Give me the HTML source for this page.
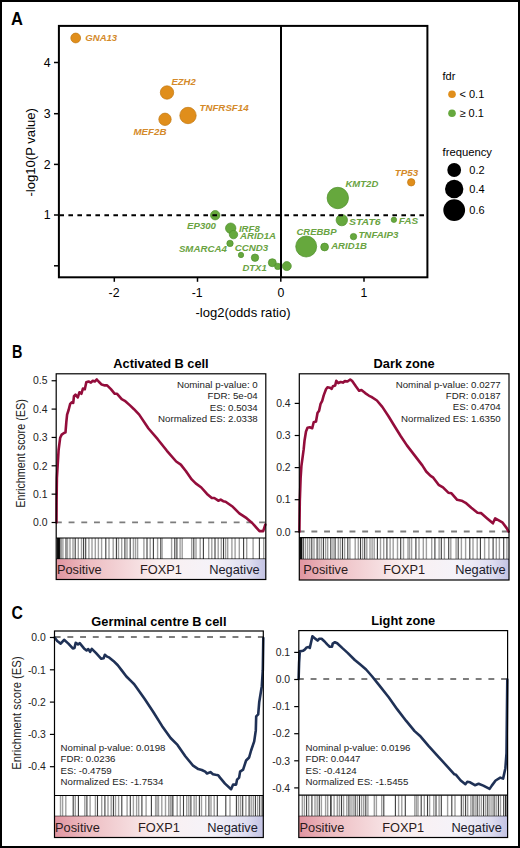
<!DOCTYPE html>
<html><head><meta charset="utf-8"><style>
html,body{margin:0;padding:0;background:#fff;}
svg{display:block;font-family:"Liberation Sans", sans-serif;}
</style></head><body>
<svg width="520" height="848" viewBox="0 0 520 848">
<rect width="520" height="848" fill="#fff"/>
<rect x="1" y="1" width="518" height="846" fill="none" stroke="#000" stroke-width="2"/>
<text x="11.0" y="25.2" font-size="18" text-anchor="start" font-weight="bold" font-style="normal" fill="#000" textLength="11.9" lengthAdjust="spacingAndGlyphs">A</text>
<line x1="54" y1="62.5" x2="58.9" y2="62.5" stroke="#000" stroke-width="1.5"/>
<text x="50.6" y="66.9" font-size="12.3" text-anchor="end" font-weight="normal" font-style="normal" fill="#000">4</text>
<line x1="54" y1="113.7" x2="58.9" y2="113.7" stroke="#000" stroke-width="1.5"/>
<text x="50.6" y="118.10000000000001" font-size="12.3" text-anchor="end" font-weight="normal" font-style="normal" fill="#000">3</text>
<line x1="54" y1="164.4" x2="58.9" y2="164.4" stroke="#000" stroke-width="1.5"/>
<text x="50.6" y="168.8" font-size="12.3" text-anchor="end" font-weight="normal" font-style="normal" fill="#000">2</text>
<line x1="54" y1="215.0" x2="58.9" y2="215.0" stroke="#000" stroke-width="1.5"/>
<text x="50.6" y="219.4" font-size="12.3" text-anchor="end" font-weight="normal" font-style="normal" fill="#000">1</text>
<line x1="54" y1="265.8" x2="58.9" y2="265.8" stroke="#000" stroke-width="1.5"/>
<line x1="114.3" y1="277.3" x2="114.3" y2="281.8" stroke="#000" stroke-width="1.5"/>
<text x="114.0" y="296.9" font-size="12.3" text-anchor="middle" font-weight="normal" font-style="normal" fill="#000">-2</text>
<line x1="197.5" y1="277.3" x2="197.5" y2="281.8" stroke="#000" stroke-width="1.5"/>
<text x="197.2" y="296.9" font-size="12.3" text-anchor="middle" font-weight="normal" font-style="normal" fill="#000">-1</text>
<line x1="280.8" y1="277.3" x2="280.8" y2="281.8" stroke="#000" stroke-width="1.5"/>
<text x="280.8" y="296.9" font-size="12.3" text-anchor="middle" font-weight="normal" font-style="normal" fill="#000">0</text>
<line x1="364.0" y1="277.3" x2="364.0" y2="281.8" stroke="#000" stroke-width="1.5"/>
<text x="364.0" y="296.9" font-size="12.3" text-anchor="middle" font-weight="normal" font-style="normal" fill="#000">1</text>
<text x="243" y="316.5" font-size="13" text-anchor="middle" font-weight="normal" font-style="normal" fill="#000" textLength="95" lengthAdjust="spacingAndGlyphs">-log2(odds ratio)</text>
<text x="0" y="0" font-size="13" text-anchor="middle" transform="translate(35.0,152.3) rotate(-90)" textLength="88.5" lengthAdjust="spacingAndGlyphs">-log10(P value)</text>
<circle cx="75.7" cy="38" r="4.9" fill="#E08E1B" stroke="#C27812" stroke-width="0.7"/>
<circle cx="167" cy="92.5" r="6.7" fill="#E08E1B" stroke="#C27812" stroke-width="0.7"/>
<circle cx="188" cy="115.5" r="8.2" fill="#E08E1B" stroke="#C27812" stroke-width="0.7"/>
<circle cx="165" cy="119.3" r="6.2" fill="#E08E1B" stroke="#C27812" stroke-width="0.7"/>
<circle cx="411.2" cy="182.3" r="3.7" fill="#E08E1B" stroke="#C27812" stroke-width="0.7"/>
<circle cx="337.8" cy="198" r="10.7" fill="#66A83D" stroke="#4F8F2C" stroke-width="0.7"/>
<circle cx="341.8" cy="220.1" r="5.7" fill="#66A83D" stroke="#4F8F2C" stroke-width="0.7"/>
<circle cx="393.9" cy="219.8" r="2.7" fill="#66A83D" stroke="#4F8F2C" stroke-width="0.7"/>
<circle cx="353.5" cy="236.6" r="3.2" fill="#66A83D" stroke="#4F8F2C" stroke-width="0.7"/>
<circle cx="306.2" cy="246.5" r="10.5" fill="#66A83D" stroke="#4F8F2C" stroke-width="0.7"/>
<circle cx="324.6" cy="247" r="3.9000000000000004" fill="#66A83D" stroke="#4F8F2C" stroke-width="0.7"/>
<circle cx="215.2" cy="215.2" r="4.7" fill="#66A83D" stroke="#4F8F2C" stroke-width="0.7"/>
<circle cx="230.7" cy="228.2" r="5.2" fill="#66A83D" stroke="#4F8F2C" stroke-width="0.7"/>
<circle cx="233.5" cy="234.6" r="4.2" fill="#66A83D" stroke="#4F8F2C" stroke-width="0.7"/>
<circle cx="230" cy="243.4" r="3.2" fill="#66A83D" stroke="#4F8F2C" stroke-width="0.7"/>
<circle cx="241" cy="255" r="2.7" fill="#66A83D" stroke="#4F8F2C" stroke-width="0.7"/>
<circle cx="255" cy="257.7" r="3.7" fill="#66A83D" stroke="#4F8F2C" stroke-width="0.7"/>
<circle cx="272.3" cy="262.7" r="4.0" fill="#66A83D" stroke="#4F8F2C" stroke-width="0.7"/>
<circle cx="277.8" cy="266.4" r="3.2" fill="#66A83D" stroke="#4F8F2C" stroke-width="0.7"/>
<circle cx="286.8" cy="266.1" r="4.5" fill="#66A83D" stroke="#4F8F2C" stroke-width="0.7"/>
<line x1="58.9" y1="215.2" x2="427.4" y2="215.2" stroke="#000" stroke-width="2" stroke-dasharray="4.6 4.4" stroke-dashoffset="-0.5"/>
<line x1="281" y1="25.9" x2="281" y2="277.3" stroke="#000" stroke-width="2"/>
<rect x="58.9" y="25.9" width="368.5" height="251.4" fill="none" stroke="#000" stroke-width="2"/>
<text x="85.3" y="41.3" font-size="9.3" text-anchor="start" font-weight="bold" font-style="italic" fill="#D48A2A" textLength="31.9" lengthAdjust="spacingAndGlyphs">GNA13</text>
<text x="171.45" y="85.05" font-size="9.3" text-anchor="start" font-weight="bold" font-style="italic" fill="#D48A2A" textLength="24.35" lengthAdjust="spacingAndGlyphs">EZH2</text>
<text x="199.5" y="110.6" font-size="9.3" text-anchor="start" font-weight="bold" font-style="italic" fill="#D48A2A" textLength="49.1" lengthAdjust="spacingAndGlyphs">TNFRSF14</text>
<text x="133.45" y="135.3" font-size="9.3" text-anchor="start" font-weight="bold" font-style="italic" fill="#D48A2A" textLength="33.1" lengthAdjust="spacingAndGlyphs">MEF2B</text>
<text x="394.7" y="176.2" font-size="9.3" text-anchor="start" font-weight="bold" font-style="italic" fill="#D48A2A" textLength="23.5" lengthAdjust="spacingAndGlyphs">TP53</text>
<text x="345.4" y="186.7" font-size="9.3" text-anchor="start" font-weight="bold" font-style="italic" fill="#6AA342" textLength="32.9" lengthAdjust="spacingAndGlyphs">KMT2D</text>
<text x="348.9" y="224.5" font-size="9.3" text-anchor="start" font-weight="bold" font-style="italic" fill="#6AA342" textLength="31.8" lengthAdjust="spacingAndGlyphs">STAT6</text>
<text x="398.7" y="224.1" font-size="9.3" text-anchor="start" font-weight="bold" font-style="italic" fill="#6AA342" textLength="19.5" lengthAdjust="spacingAndGlyphs">FAS</text>
<text x="358.4" y="237.9" font-size="9.3" text-anchor="start" font-weight="bold" font-style="italic" fill="#6AA342" textLength="40.1" lengthAdjust="spacingAndGlyphs">TNFAIP3</text>
<text x="296.4" y="235.2" font-size="9.3" text-anchor="start" font-weight="bold" font-style="italic" fill="#6AA342" textLength="40.2" lengthAdjust="spacingAndGlyphs">CREBBP</text>
<text x="331.2" y="249.1" font-size="9.3" text-anchor="start" font-weight="bold" font-style="italic" fill="#6AA342" textLength="35.7" lengthAdjust="spacingAndGlyphs">ARID1B</text>
<text x="187.0" y="229.1" font-size="9.3" text-anchor="start" font-weight="bold" font-style="italic" fill="#6AA342" textLength="29.0" lengthAdjust="spacingAndGlyphs">EP300</text>
<text x="238.9" y="231.5" font-size="9.3" text-anchor="start" font-weight="bold" font-style="italic" fill="#6AA342" textLength="20.9" lengthAdjust="spacingAndGlyphs">IRF8</text>
<text x="240.1" y="238.6" font-size="9.3" text-anchor="start" font-weight="bold" font-style="italic" fill="#6AA342" textLength="35.9" lengthAdjust="spacingAndGlyphs">ARID1A</text>
<text x="178.9" y="251.8" font-size="9.3" text-anchor="start" font-weight="bold" font-style="italic" fill="#6AA342" textLength="47.9" lengthAdjust="spacingAndGlyphs">SMARCA4</text>
<text x="234.7" y="251.1" font-size="9.3" text-anchor="start" font-weight="bold" font-style="italic" fill="#6AA342" textLength="33.6" lengthAdjust="spacingAndGlyphs">CCND3</text>
<text x="242.4" y="270.7" font-size="9.3" text-anchor="start" font-weight="bold" font-style="italic" fill="#6AA342" textLength="24.4" lengthAdjust="spacingAndGlyphs">DTX1</text>
<text x="442.5" y="80.2" font-size="11" text-anchor="start" font-weight="normal" font-style="normal" fill="#000">fdr</text>
<circle cx="452" cy="94.3" r="3.8" fill="#E08E1B"/>
<text x="459.5" y="98.2" font-size="11" text-anchor="start" font-weight="normal" font-style="normal" fill="#000">&lt; 0.1</text>
<circle cx="452" cy="113.3" r="3.8" fill="#66A83D"/>
<text x="459.5" y="117.2" font-size="11" text-anchor="start" font-weight="normal" font-style="normal" fill="#000">&#8805; 0.1</text>
<text x="442.5" y="156.4" font-size="11" text-anchor="start" font-weight="normal" font-style="normal" fill="#000" textLength="49.5" lengthAdjust="spacingAndGlyphs">frequency</text>
<circle cx="454.2" cy="170" r="6.9" fill="#000"/>
<text x="469.3" y="173.9" font-size="11" text-anchor="start" font-weight="normal" font-style="normal" fill="#000">0.2</text>
<circle cx="454.2" cy="189" r="9.2" fill="#000"/>
<text x="469.3" y="192.9" font-size="11" text-anchor="start" font-weight="normal" font-style="normal" fill="#000">0.4</text>
<circle cx="454.2" cy="210.1" r="10.9" fill="#000"/>
<text x="469.3" y="214.0" font-size="11" text-anchor="start" font-weight="normal" font-style="normal" fill="#000">0.6</text>
<line x1="56.2" y1="522.4" x2="265.8" y2="522.4" stroke="#7d7d7d" stroke-width="1.8" stroke-dasharray="5.9 6.8" stroke-dashoffset="0.3"/>
<polyline points="56.5,522.5 56.6,500 56.9,478 58.6,450 60.2,437.7 61.7,434.6 64,433 65.5,432.3 66.3,422.3 67.1,414.6 68.6,410 70.2,403.8 71.7,402.3 73.2,403 74,396.2 75.5,394.6 77.8,397.4 79.4,392.3 81.4,393.8 82.9,388.5 84.8,389.2 86.3,382.3 88.6,381.5 90.9,382.6 92.8,380.8 94.8,381.5 96.8,379.5 98.6,381.5 101.7,384.6 104.8,385.4 107.1,385.4 110.9,389.2 114.8,393.8 117.1,393.8 121.7,399.2 124.8,400.8 130,405.4 134,409.2 139.2,414.6 148.5,428.5 157.7,439.2 166.9,450.8 176.2,461.5 180.8,464.6 186,471.3 191.7,479.4 195.7,483.4 201.3,487.5 207,493.9 211.8,498 214.3,498 218.3,500.7 220.7,499.6 223.2,501.2 225.6,501.7 232.8,506.8 239.3,513.3 246.6,518.2 252.2,523 259.5,531.1 263.2,531.1 265.3,524.6" fill="none" stroke="#930D3B" stroke-width="2.6" stroke-linejoin="round" stroke-linecap="round"/>
<rect x="56.2" y="538.0" width="209.60000000000002" height="21.200000000000045" fill="#fff"/>
<rect x="57" y="538.0" width="3.5" height="21.200000000000045" fill="rgb(20,20,20)"/>
<line x1="58.5" y1="538.0" x2="58.5" y2="559.2" stroke="rgb(10,10,10)" stroke-width="1.3"/>
<line x1="61.4" y1="538.0" x2="61.4" y2="559.2" stroke="rgb(160,160,160)" stroke-width="1.4"/>
<line x1="62.9" y1="538.0" x2="62.9" y2="559.2" stroke="rgb(160,160,160)" stroke-width="1.4"/>
<line x1="66.0" y1="538.0" x2="66.0" y2="559.2" stroke="rgb(60,60,60)" stroke-width="1.1"/>
<line x1="67.5" y1="538.0" x2="67.5" y2="559.2" stroke="rgb(160,160,160)" stroke-width="1.4"/>
<line x1="70.0" y1="538.0" x2="70.0" y2="559.2" stroke="rgb(160,160,160)" stroke-width="1.4"/>
<line x1="73.0" y1="538.0" x2="73.0" y2="559.2" stroke="rgb(160,160,160)" stroke-width="1.4"/>
<line x1="75.2" y1="538.0" x2="75.2" y2="559.2" stroke="rgb(60,60,60)" stroke-width="1.1"/>
<line x1="78.3" y1="538.0" x2="78.3" y2="559.2" stroke="rgb(160,160,160)" stroke-width="1.4"/>
<line x1="81.5" y1="538.0" x2="81.5" y2="559.2" stroke="rgb(160,160,160)" stroke-width="1.4"/>
<line x1="83.6" y1="538.0" x2="83.6" y2="559.2" stroke="rgb(60,60,60)" stroke-width="1.1"/>
<line x1="85.7" y1="538.0" x2="85.7" y2="559.2" stroke="rgb(60,60,60)" stroke-width="1.1"/>
<line x1="88.9" y1="538.0" x2="88.9" y2="559.2" stroke="rgb(160,160,160)" stroke-width="1.4"/>
<line x1="92.0" y1="538.0" x2="92.0" y2="559.2" stroke="rgb(160,160,160)" stroke-width="1.4"/>
<line x1="95.3" y1="538.0" x2="95.3" y2="559.2" stroke="rgb(160,160,160)" stroke-width="1.4"/>
<line x1="98.4" y1="538.0" x2="98.4" y2="559.2" stroke="rgb(160,160,160)" stroke-width="1.4"/>
<line x1="101.6" y1="538.0" x2="101.6" y2="559.2" stroke="rgb(160,160,160)" stroke-width="1.4"/>
<line x1="105.8" y1="538.0" x2="105.8" y2="559.2" stroke="rgb(60,60,60)" stroke-width="1.1"/>
<line x1="109.0" y1="538.0" x2="109.0" y2="559.2" stroke="rgb(160,160,160)" stroke-width="1.4"/>
<line x1="113.2" y1="538.0" x2="113.2" y2="559.2" stroke="rgb(160,160,160)" stroke-width="1.4"/>
<line x1="116.4" y1="538.0" x2="116.4" y2="559.2" stroke="rgb(60,60,60)" stroke-width="1.1"/>
<line x1="118.5" y1="538.0" x2="118.5" y2="559.2" stroke="rgb(160,160,160)" stroke-width="1.4"/>
<line x1="121.7" y1="538.0" x2="121.7" y2="559.2" stroke="rgb(160,160,160)" stroke-width="1.4"/>
<line x1="124.9" y1="538.0" x2="124.9" y2="559.2" stroke="rgb(60,60,60)" stroke-width="1.1"/>
<line x1="127.0" y1="538.0" x2="127.0" y2="559.2" stroke="rgb(160,160,160)" stroke-width="1.4"/>
<line x1="130.2" y1="538.0" x2="130.2" y2="559.2" stroke="rgb(60,60,60)" stroke-width="1.1"/>
<line x1="133.4" y1="538.0" x2="133.4" y2="559.2" stroke="rgb(160,160,160)" stroke-width="1.4"/>
<line x1="135.5" y1="538.0" x2="135.5" y2="559.2" stroke="rgb(160,160,160)" stroke-width="1.4"/>
<line x1="137.6" y1="538.0" x2="137.6" y2="559.2" stroke="rgb(160,160,160)" stroke-width="1.4"/>
<line x1="143.9" y1="538.0" x2="143.9" y2="559.2" stroke="rgb(160,160,160)" stroke-width="1.4"/>
<line x1="147.0" y1="538.0" x2="147.0" y2="559.2" stroke="rgb(60,60,60)" stroke-width="1.1"/>
<line x1="150.2" y1="538.0" x2="150.2" y2="559.2" stroke="rgb(160,160,160)" stroke-width="1.4"/>
<line x1="153.4" y1="538.0" x2="153.4" y2="559.2" stroke="rgb(60,60,60)" stroke-width="1.1"/>
<line x1="157.6" y1="538.0" x2="157.6" y2="559.2" stroke="rgb(160,160,160)" stroke-width="1.4"/>
<line x1="160.8" y1="538.0" x2="160.8" y2="559.2" stroke="rgb(60,60,60)" stroke-width="1.1"/>
<line x1="162.1" y1="538.0" x2="162.1" y2="559.2" stroke="rgb(160,160,160)" stroke-width="1.4"/>
<line x1="171.6" y1="538.0" x2="171.6" y2="559.2" stroke="rgb(160,160,160)" stroke-width="1.4"/>
<line x1="174.8" y1="538.0" x2="174.8" y2="559.2" stroke="rgb(60,60,60)" stroke-width="1.1"/>
<line x1="176.9" y1="538.0" x2="176.9" y2="559.2" stroke="rgb(60,60,60)" stroke-width="1.1"/>
<line x1="180.1" y1="538.0" x2="180.1" y2="559.2" stroke="rgb(160,160,160)" stroke-width="1.4"/>
<line x1="182.2" y1="538.0" x2="182.2" y2="559.2" stroke="rgb(160,160,160)" stroke-width="1.4"/>
<line x1="191.7" y1="538.0" x2="191.7" y2="559.2" stroke="rgb(160,160,160)" stroke-width="1.4"/>
<line x1="193.8" y1="538.0" x2="193.8" y2="559.2" stroke="rgb(60,60,60)" stroke-width="1.1"/>
<line x1="196.0" y1="538.0" x2="196.0" y2="559.2" stroke="rgb(160,160,160)" stroke-width="1.4"/>
<line x1="200.2" y1="538.0" x2="200.2" y2="559.2" stroke="rgb(160,160,160)" stroke-width="1.4"/>
<line x1="203.4" y1="538.0" x2="203.4" y2="559.2" stroke="rgb(60,60,60)" stroke-width="1.1"/>
<line x1="208.7" y1="538.0" x2="208.7" y2="559.2" stroke="rgb(160,160,160)" stroke-width="1.4"/>
<line x1="211.8" y1="538.0" x2="211.8" y2="559.2" stroke="rgb(160,160,160)" stroke-width="1.4"/>
<line x1="215.0" y1="538.0" x2="215.0" y2="559.2" stroke="rgb(60,60,60)" stroke-width="1.1"/>
<line x1="218.2" y1="538.0" x2="218.2" y2="559.2" stroke="rgb(160,160,160)" stroke-width="1.4"/>
<line x1="221.3" y1="538.0" x2="221.3" y2="559.2" stroke="rgb(160,160,160)" stroke-width="1.4"/>
<line x1="223.5" y1="538.0" x2="223.5" y2="559.2" stroke="rgb(60,60,60)" stroke-width="1.1"/>
<line x1="225.6" y1="538.0" x2="225.6" y2="559.2" stroke="rgb(160,160,160)" stroke-width="1.4"/>
<line x1="227.7" y1="538.0" x2="227.7" y2="559.2" stroke="rgb(160,160,160)" stroke-width="1.4"/>
<line x1="231.9" y1="538.0" x2="231.9" y2="559.2" stroke="rgb(160,160,160)" stroke-width="1.4"/>
<line x1="235.1" y1="538.0" x2="235.1" y2="559.2" stroke="rgb(160,160,160)" stroke-width="1.4"/>
<line x1="239.3" y1="538.0" x2="239.3" y2="559.2" stroke="rgb(160,160,160)" stroke-width="1.4"/>
<line x1="243.6" y1="538.0" x2="243.6" y2="559.2" stroke="rgb(60,60,60)" stroke-width="1.1"/>
<line x1="246.7" y1="538.0" x2="246.7" y2="559.2" stroke="rgb(160,160,160)" stroke-width="1.4"/>
<line x1="253.1" y1="538.0" x2="253.1" y2="559.2" stroke="rgb(160,160,160)" stroke-width="1.4"/>
<line x1="259.4" y1="538.0" x2="259.4" y2="559.2" stroke="rgb(60,60,60)" stroke-width="1.1"/>
<line x1="263.7" y1="538.0" x2="263.7" y2="559.2" stroke="rgb(160,160,160)" stroke-width="1.4"/>
<line x1="56.2" y1="538.0" x2="265.8" y2="538.0" stroke="#000" stroke-width="1.2"/>
<line x1="56.2" y1="559.2" x2="265.8" y2="559.2" stroke="#000" stroke-width="1.2"/>
<defs><linearGradient id="g56373" x1="0" x2="1" y1="0" y2="0"><stop offset="0" stop-color="#E094A0"/><stop offset="0.15" stop-color="#EDBCC1"/><stop offset="0.5" stop-color="#FAEFF0"/><stop offset="0.75" stop-color="#F5F3F9"/><stop offset="0.92" stop-color="#DEDDF0"/><stop offset="1" stop-color="#C2C2E3"/></linearGradient></defs>
<rect x="56.2" y="559.2" width="209.60000000000002" height="20.299999999999955" fill="url(#g56373)"/>
<rect x="56.2" y="373.8" width="209.60000000000002" height="205.7" fill="none" stroke="#000" stroke-width="1.2"/>
<line x1="51.6" y1="522.50" x2="56.2" y2="522.50" stroke="#000" stroke-width="1.2"/>
<text x="47.5" y="526.2" font-size="10.4" text-anchor="end" font-weight="normal" font-style="normal" fill="#222">0.0</text>
<line x1="51.6" y1="494.15" x2="56.2" y2="494.15" stroke="#000" stroke-width="1.2"/>
<text x="47.5" y="497.85" font-size="10.4" text-anchor="end" font-weight="normal" font-style="normal" fill="#222">0.1</text>
<line x1="51.6" y1="465.80" x2="56.2" y2="465.80" stroke="#000" stroke-width="1.2"/>
<text x="47.5" y="469.5" font-size="10.4" text-anchor="end" font-weight="normal" font-style="normal" fill="#222">0.2</text>
<line x1="51.6" y1="437.45" x2="56.2" y2="437.45" stroke="#000" stroke-width="1.2"/>
<text x="47.5" y="441.15" font-size="10.4" text-anchor="end" font-weight="normal" font-style="normal" fill="#222">0.3</text>
<line x1="51.6" y1="409.10" x2="56.2" y2="409.10" stroke="#000" stroke-width="1.2"/>
<text x="47.5" y="412.8" font-size="10.4" text-anchor="end" font-weight="normal" font-style="normal" fill="#222">0.4</text>
<line x1="51.6" y1="380.75" x2="56.2" y2="380.75" stroke="#000" stroke-width="1.2"/>
<text x="47.5" y="384.45" font-size="10.4" text-anchor="end" font-weight="normal" font-style="normal" fill="#222">0.5</text>
<text x="161.0" y="368.2" font-size="12.8" text-anchor="middle" font-weight="bold" font-style="normal" fill="#000">Activated B cell</text>
<text x="257.7" y="388.0" font-size="9.7" text-anchor="end" font-weight="normal" font-style="normal" fill="#222">Nominal p-value: 0</text>
<text x="257.7" y="399.4" font-size="9.7" text-anchor="end" font-weight="normal" font-style="normal" fill="#222">FDR: 5e-04</text>
<text x="257.7" y="410.8" font-size="9.7" text-anchor="end" font-weight="normal" font-style="normal" fill="#222">ES: 0.5034</text>
<text x="257.7" y="422.2" font-size="9.7" text-anchor="end" font-weight="normal" font-style="normal" fill="#222">Normalized ES: 2.0338</text>
<text x="56.900000000000006" y="574.0500000000001" font-size="12.8" text-anchor="start" font-weight="normal" font-style="normal" fill="#2a1a1a">Positive</text>
<text x="161.0" y="574.0500000000001" font-size="12.8" text-anchor="middle" font-weight="normal" font-style="normal" fill="#2a1a1a">FOXP1</text>
<text x="259.70000000000005" y="574.0500000000001" font-size="12.8" text-anchor="end" font-weight="normal" font-style="normal" fill="#1a1a2a">Negative</text>
<line x1="299.3" y1="531.5" x2="509.0" y2="531.5" stroke="#7d7d7d" stroke-width="1.8" stroke-dasharray="5.9 6.8" stroke-dashoffset="0.6"/>
<polyline points="299.4,531.8 299.8,501.5 300.6,478.5 301.4,466.2 303.7,449.2 304.5,440.8 306,431.5 307.5,427.7 309.8,427.2 312.2,428.2 313.7,422.3 316,421.5 317.5,413.1 319.1,410.8 320.6,403.8 322.2,400.8 323.7,395.4 326,389.2 327.5,387.2 329.8,387.7 331.7,388.8 332.9,386.2 335.2,385.4 336.3,380.8 338.3,383.1 340.6,382 342.9,382.6 344.9,381.1 347.5,381.5 350.2,379.5 352.2,381.1 356,386.6 359.1,390.8 361.4,390 365.2,393.1 369.1,395.8 371.4,396.9 376.9,400.5 382.3,406.9 388.5,416.2 394.6,426.2 400.8,436.2 406.9,445.4 414.6,455.4 422.3,465.4 426.2,471.5 430.6,475.9 433.3,477.7 438.6,484.8 443,487.4 448.3,492.7 451.5,493.3 457.2,499.8 461.6,500.7 465.6,502.8 471.3,507.8 477.5,512.7 481,513.1 487.2,518.4 492.9,523.3 495.2,518.4 502.3,522.3 506.7,528.1 508.6,531.7" fill="none" stroke="#930D3B" stroke-width="2.6" stroke-linejoin="round" stroke-linecap="round"/>
<rect x="299.3" y="537.6" width="209.7" height="21.799999999999955" fill="#fff"/>
<rect x="299.5" y="537.6" width="2.8000000000000114" height="21.799999999999955" fill="rgb(20,20,20)"/>
<line x1="301.2" y1="537.6" x2="301.2" y2="559.4" stroke="rgb(10,10,10)" stroke-width="1.3"/>
<line x1="303.3" y1="537.6" x2="303.3" y2="559.4" stroke="rgb(60,60,60)" stroke-width="1.1"/>
<line x1="305.4" y1="537.6" x2="305.4" y2="559.4" stroke="rgb(160,160,160)" stroke-width="1.4"/>
<line x1="307.6" y1="537.6" x2="307.6" y2="559.4" stroke="rgb(160,160,160)" stroke-width="1.4"/>
<line x1="309.7" y1="537.6" x2="309.7" y2="559.4" stroke="rgb(160,160,160)" stroke-width="1.4"/>
<line x1="311.8" y1="537.6" x2="311.8" y2="559.4" stroke="rgb(60,60,60)" stroke-width="1.1"/>
<line x1="314.0" y1="537.6" x2="314.0" y2="559.4" stroke="rgb(160,160,160)" stroke-width="1.4"/>
<line x1="317.1" y1="537.6" x2="317.1" y2="559.4" stroke="rgb(60,60,60)" stroke-width="1.1"/>
<line x1="319.2" y1="537.6" x2="319.2" y2="559.4" stroke="rgb(160,160,160)" stroke-width="1.4"/>
<line x1="321.3" y1="537.6" x2="321.3" y2="559.4" stroke="rgb(160,160,160)" stroke-width="1.4"/>
<line x1="323.4" y1="537.6" x2="323.4" y2="559.4" stroke="rgb(60,60,60)" stroke-width="1.1"/>
<line x1="325.6" y1="537.6" x2="325.6" y2="559.4" stroke="rgb(160,160,160)" stroke-width="1.4"/>
<line x1="327.7" y1="537.6" x2="327.7" y2="559.4" stroke="rgb(160,160,160)" stroke-width="1.4"/>
<line x1="330.8" y1="537.6" x2="330.8" y2="559.4" stroke="rgb(60,60,60)" stroke-width="1.1"/>
<line x1="333.0" y1="537.6" x2="333.0" y2="559.4" stroke="rgb(160,160,160)" stroke-width="1.4"/>
<line x1="335.1" y1="537.6" x2="335.1" y2="559.4" stroke="rgb(60,60,60)" stroke-width="1.1"/>
<line x1="338.3" y1="537.6" x2="338.3" y2="559.4" stroke="rgb(160,160,160)" stroke-width="1.4"/>
<line x1="340.4" y1="537.6" x2="340.4" y2="559.4" stroke="rgb(160,160,160)" stroke-width="1.4"/>
<line x1="342.5" y1="537.6" x2="342.5" y2="559.4" stroke="rgb(60,60,60)" stroke-width="1.1"/>
<line x1="344.6" y1="537.6" x2="344.6" y2="559.4" stroke="rgb(160,160,160)" stroke-width="1.4"/>
<line x1="347.8" y1="537.6" x2="347.8" y2="559.4" stroke="rgb(60,60,60)" stroke-width="1.1"/>
<line x1="349.9" y1="537.6" x2="349.9" y2="559.4" stroke="rgb(160,160,160)" stroke-width="1.4"/>
<line x1="355.2" y1="537.6" x2="355.2" y2="559.4" stroke="rgb(160,160,160)" stroke-width="1.4"/>
<line x1="358.3" y1="537.6" x2="358.3" y2="559.4" stroke="rgb(160,160,160)" stroke-width="1.4"/>
<line x1="360.5" y1="537.6" x2="360.5" y2="559.4" stroke="rgb(60,60,60)" stroke-width="1.1"/>
<line x1="362.6" y1="537.6" x2="362.6" y2="559.4" stroke="rgb(160,160,160)" stroke-width="1.4"/>
<line x1="364.7" y1="537.6" x2="364.7" y2="559.4" stroke="rgb(60,60,60)" stroke-width="1.1"/>
<line x1="366.8" y1="537.6" x2="366.8" y2="559.4" stroke="rgb(160,160,160)" stroke-width="1.4"/>
<line x1="370.0" y1="537.6" x2="370.0" y2="559.4" stroke="rgb(160,160,160)" stroke-width="1.4"/>
<line x1="372.1" y1="537.6" x2="372.1" y2="559.4" stroke="rgb(160,160,160)" stroke-width="1.4"/>
<line x1="374.2" y1="537.6" x2="374.2" y2="559.4" stroke="rgb(160,160,160)" stroke-width="1.4"/>
<line x1="377.4" y1="537.6" x2="377.4" y2="559.4" stroke="rgb(60,60,60)" stroke-width="1.1"/>
<line x1="380.5" y1="537.6" x2="380.5" y2="559.4" stroke="rgb(160,160,160)" stroke-width="1.4"/>
<line x1="383.7" y1="537.6" x2="383.7" y2="559.4" stroke="rgb(160,160,160)" stroke-width="1.4"/>
<line x1="386.9" y1="537.6" x2="386.9" y2="559.4" stroke="rgb(60,60,60)" stroke-width="1.1"/>
<line x1="390.1" y1="537.6" x2="390.1" y2="559.4" stroke="rgb(160,160,160)" stroke-width="1.4"/>
<line x1="393.2" y1="537.6" x2="393.2" y2="559.4" stroke="rgb(160,160,160)" stroke-width="1.4"/>
<line x1="397.5" y1="537.6" x2="397.5" y2="559.4" stroke="rgb(160,160,160)" stroke-width="1.4"/>
<line x1="400.7" y1="537.6" x2="400.7" y2="559.4" stroke="rgb(60,60,60)" stroke-width="1.1"/>
<line x1="403.5" y1="537.6" x2="403.5" y2="559.4" stroke="rgb(160,160,160)" stroke-width="1.4"/>
<line x1="408.0" y1="537.6" x2="408.0" y2="559.4" stroke="rgb(160,160,160)" stroke-width="1.4"/>
<line x1="409.5" y1="537.6" x2="409.5" y2="559.4" stroke="rgb(160,160,160)" stroke-width="1.4"/>
<line x1="411.6" y1="537.6" x2="411.6" y2="559.4" stroke="rgb(160,160,160)" stroke-width="1.4"/>
<line x1="415.9" y1="537.6" x2="415.9" y2="559.4" stroke="rgb(60,60,60)" stroke-width="1.1"/>
<line x1="419.0" y1="537.6" x2="419.0" y2="559.4" stroke="rgb(160,160,160)" stroke-width="1.4"/>
<line x1="423.3" y1="537.6" x2="423.3" y2="559.4" stroke="rgb(160,160,160)" stroke-width="1.4"/>
<line x1="426.4" y1="537.6" x2="426.4" y2="559.4" stroke="rgb(160,160,160)" stroke-width="1.4"/>
<line x1="431.7" y1="537.6" x2="431.7" y2="559.4" stroke="rgb(160,160,160)" stroke-width="1.4"/>
<line x1="434.9" y1="537.6" x2="434.9" y2="559.4" stroke="rgb(60,60,60)" stroke-width="1.1"/>
<line x1="439.1" y1="537.6" x2="439.1" y2="559.4" stroke="rgb(160,160,160)" stroke-width="1.4"/>
<line x1="441.3" y1="537.6" x2="441.3" y2="559.4" stroke="rgb(60,60,60)" stroke-width="1.1"/>
<line x1="444.4" y1="537.6" x2="444.4" y2="559.4" stroke="rgb(160,160,160)" stroke-width="1.4"/>
<line x1="448.7" y1="537.6" x2="448.7" y2="559.4" stroke="rgb(60,60,60)" stroke-width="1.1"/>
<line x1="450.8" y1="537.6" x2="450.8" y2="559.4" stroke="rgb(160,160,160)" stroke-width="1.4"/>
<line x1="456.1" y1="537.6" x2="456.1" y2="559.4" stroke="rgb(160,160,160)" stroke-width="1.4"/>
<line x1="458.2" y1="537.6" x2="458.2" y2="559.4" stroke="rgb(60,60,60)" stroke-width="1.1"/>
<line x1="461.4" y1="537.6" x2="461.4" y2="559.4" stroke="rgb(160,160,160)" stroke-width="1.4"/>
<line x1="465.6" y1="537.6" x2="465.6" y2="559.4" stroke="rgb(160,160,160)" stroke-width="1.4"/>
<line x1="469.8" y1="537.6" x2="469.8" y2="559.4" stroke="rgb(60,60,60)" stroke-width="1.1"/>
<line x1="473.0" y1="537.6" x2="473.0" y2="559.4" stroke="rgb(160,160,160)" stroke-width="1.4"/>
<line x1="477.2" y1="537.6" x2="477.2" y2="559.4" stroke="rgb(160,160,160)" stroke-width="1.4"/>
<line x1="480.4" y1="537.6" x2="480.4" y2="559.4" stroke="rgb(60,60,60)" stroke-width="1.1"/>
<line x1="484.6" y1="537.6" x2="484.6" y2="559.4" stroke="rgb(160,160,160)" stroke-width="1.4"/>
<line x1="488.9" y1="537.6" x2="488.9" y2="559.4" stroke="rgb(160,160,160)" stroke-width="1.4"/>
<line x1="493.1" y1="537.6" x2="493.1" y2="559.4" stroke="rgb(60,60,60)" stroke-width="1.1"/>
<line x1="496.3" y1="537.6" x2="496.3" y2="559.4" stroke="rgb(160,160,160)" stroke-width="1.4"/>
<line x1="499.4" y1="537.6" x2="499.4" y2="559.4" stroke="rgb(160,160,160)" stroke-width="1.4"/>
<line x1="503.7" y1="537.6" x2="503.7" y2="559.4" stroke="rgb(60,60,60)" stroke-width="1.1"/>
<line x1="506.9" y1="537.6" x2="506.9" y2="559.4" stroke="rgb(160,160,160)" stroke-width="1.4"/>
<line x1="299.3" y1="537.6" x2="509.0" y2="537.6" stroke="#000" stroke-width="1.2"/>
<line x1="299.3" y1="559.4" x2="509.0" y2="559.4" stroke="#000" stroke-width="1.2"/>
<defs><linearGradient id="g299373" x1="0" x2="1" y1="0" y2="0"><stop offset="0" stop-color="#E094A0"/><stop offset="0.15" stop-color="#EDBCC1"/><stop offset="0.5" stop-color="#FAEFF0"/><stop offset="0.75" stop-color="#F5F3F9"/><stop offset="0.92" stop-color="#DEDDF0"/><stop offset="1" stop-color="#C2C2E3"/></linearGradient></defs>
<rect x="299.3" y="559.4" width="209.7" height="20.600000000000023" fill="url(#g299373)"/>
<rect x="299.3" y="373.8" width="209.7" height="206.2" fill="none" stroke="#000" stroke-width="1.2"/>
<line x1="294.7" y1="531.80" x2="299.3" y2="531.80" stroke="#000" stroke-width="1.2"/>
<text x="290.6" y="535.5" font-size="10.4" text-anchor="end" font-weight="normal" font-style="normal" fill="#222">0.0</text>
<line x1="294.7" y1="499.70" x2="299.3" y2="499.70" stroke="#000" stroke-width="1.2"/>
<text x="290.6" y="503.4" font-size="10.4" text-anchor="end" font-weight="normal" font-style="normal" fill="#222">0.1</text>
<line x1="294.7" y1="467.60" x2="299.3" y2="467.60" stroke="#000" stroke-width="1.2"/>
<text x="290.6" y="471.3" font-size="10.4" text-anchor="end" font-weight="normal" font-style="normal" fill="#222">0.2</text>
<line x1="294.7" y1="435.50" x2="299.3" y2="435.50" stroke="#000" stroke-width="1.2"/>
<text x="290.6" y="439.2" font-size="10.4" text-anchor="end" font-weight="normal" font-style="normal" fill="#222">0.3</text>
<line x1="294.7" y1="403.40" x2="299.3" y2="403.40" stroke="#000" stroke-width="1.2"/>
<text x="290.6" y="407.1" font-size="10.4" text-anchor="end" font-weight="normal" font-style="normal" fill="#222">0.4</text>
<text x="404.15" y="368.2" font-size="12.8" text-anchor="middle" font-weight="bold" font-style="normal" fill="#000">Dark zone</text>
<text x="500.7" y="387.6" font-size="9.7" text-anchor="end" font-weight="normal" font-style="normal" fill="#222">Nominal p-value: 0.0277</text>
<text x="500.7" y="399.0" font-size="9.7" text-anchor="end" font-weight="normal" font-style="normal" fill="#222">FDR: 0.0187</text>
<text x="500.7" y="410.4" font-size="9.7" text-anchor="end" font-weight="normal" font-style="normal" fill="#222">ES: 0.4704</text>
<text x="500.7" y="421.8" font-size="9.7" text-anchor="end" font-weight="normal" font-style="normal" fill="#222">Normalized ES: 1.6350</text>
<text x="303.3" y="574.4000000000001" font-size="12.8" text-anchor="start" font-weight="normal" font-style="normal" fill="#2a1a1a">Positive</text>
<text x="404.15" y="574.4000000000001" font-size="12.8" text-anchor="middle" font-weight="normal" font-style="normal" fill="#2a1a1a">FOXP1</text>
<text x="505.7" y="574.4000000000001" font-size="12.8" text-anchor="end" font-weight="normal" font-style="normal" fill="#1a1a2a">Negative</text>
<text x="11.9" y="358.4" font-size="18" text-anchor="start" font-weight="bold" font-style="normal" fill="#000" textLength="10.4" lengthAdjust="spacingAndGlyphs">B</text>
<text x="0" y="0" font-size="12" text-anchor="middle" fill="#222" transform="translate(24.5,453.5) rotate(-90)" textLength="108.5" lengthAdjust="spacingAndGlyphs">Enrichment score (ES)</text>
<line x1="54.5" y1="637.0" x2="263.3" y2="637.0" stroke="#7d7d7d" stroke-width="1.8" stroke-dasharray="5.9 6.8" stroke-dashoffset="-0.2"/>
<polyline points="54.6,637.5 57.2,641 60.7,643.6 64.1,639.8 68.4,643.6 72.8,648.4 74.5,647.9 75.7,642.7 78,644.4 79.7,643.2 84,648.4 86.6,650.5 88.3,649.1 90.1,651.9 91.8,648.8 96.1,653.1 101.3,658.8 103.6,658.3 104.8,654.8 107,656.6 109.1,657.4 113.4,660.9 117.8,665.2 122.1,670.9 126.4,676.5 131.6,681.7 134.2,684.2 138.5,690.3 144.7,699 153.3,712 162,725.9 170.6,738 177.5,744.9 185.3,756.2 193.1,765.7 198.3,769.1 201.8,770 205.2,771.7 207,773.5 210.4,772.1 213,774.3 215.6,774.8 218.2,775.2 220,777.6 225,783.6 231.1,789.2 233.1,784.6 236.1,784.6 237.1,779.6 239.1,777.6 240.1,771.6 243.1,769.6 246.1,760.5 249.1,757.5 251.1,750.5 254.2,741.4 255.8,730.4 256.2,716.3 258.2,714.3 259.2,702.3 261.8,686.2 262.8,670.2 263.3,638" fill="none" stroke="#1F3156" stroke-width="2.6" stroke-linejoin="round" stroke-linecap="round"/>
<rect x="54.5" y="795.5" width="208.8" height="20.799999999999955" fill="#fff"/>
<line x1="60.5" y1="795.5" x2="60.5" y2="816.3" stroke="rgb(160,160,160)" stroke-width="1.4"/>
<line x1="62.6" y1="795.5" x2="62.6" y2="816.3" stroke="rgb(160,160,160)" stroke-width="1.4"/>
<line x1="65.8" y1="795.5" x2="65.8" y2="816.3" stroke="rgb(160,160,160)" stroke-width="1.4"/>
<line x1="73.2" y1="795.5" x2="73.2" y2="816.3" stroke="rgb(60,60,60)" stroke-width="1.1"/>
<line x1="75.3" y1="795.5" x2="75.3" y2="816.3" stroke="rgb(160,160,160)" stroke-width="1.4"/>
<line x1="78.4" y1="795.5" x2="78.4" y2="816.3" stroke="rgb(60,60,60)" stroke-width="1.1"/>
<line x1="84.8" y1="795.5" x2="84.8" y2="816.3" stroke="rgb(160,160,160)" stroke-width="1.4"/>
<line x1="86.9" y1="795.5" x2="86.9" y2="816.3" stroke="rgb(60,60,60)" stroke-width="1.1"/>
<line x1="90.1" y1="795.5" x2="90.1" y2="816.3" stroke="rgb(160,160,160)" stroke-width="1.4"/>
<line x1="95.4" y1="795.5" x2="95.4" y2="816.3" stroke="rgb(160,160,160)" stroke-width="1.4"/>
<line x1="97.5" y1="795.5" x2="97.5" y2="816.3" stroke="rgb(60,60,60)" stroke-width="1.1"/>
<line x1="101.7" y1="795.5" x2="101.7" y2="816.3" stroke="rgb(160,160,160)" stroke-width="1.4"/>
<line x1="104.9" y1="795.5" x2="104.9" y2="816.3" stroke="rgb(60,60,60)" stroke-width="1.1"/>
<line x1="108.0" y1="795.5" x2="108.0" y2="816.3" stroke="rgb(160,160,160)" stroke-width="1.4"/>
<line x1="111.2" y1="795.5" x2="111.2" y2="816.3" stroke="rgb(160,160,160)" stroke-width="1.4"/>
<line x1="113.4" y1="795.5" x2="113.4" y2="816.3" stroke="rgb(60,60,60)" stroke-width="1.1"/>
<line x1="115.5" y1="795.5" x2="115.5" y2="816.3" stroke="rgb(160,160,160)" stroke-width="1.4"/>
<line x1="118.6" y1="795.5" x2="118.6" y2="816.3" stroke="rgb(160,160,160)" stroke-width="1.4"/>
<line x1="121.8" y1="795.5" x2="121.8" y2="816.3" stroke="rgb(60,60,60)" stroke-width="1.1"/>
<line x1="127.1" y1="795.5" x2="127.1" y2="816.3" stroke="rgb(160,160,160)" stroke-width="1.4"/>
<line x1="130.3" y1="795.5" x2="130.3" y2="816.3" stroke="rgb(60,60,60)" stroke-width="1.1"/>
<line x1="133.4" y1="795.5" x2="133.4" y2="816.3" stroke="rgb(160,160,160)" stroke-width="1.4"/>
<line x1="136.6" y1="795.5" x2="136.6" y2="816.3" stroke="rgb(160,160,160)" stroke-width="1.4"/>
<line x1="138.7" y1="795.5" x2="138.7" y2="816.3" stroke="rgb(160,160,160)" stroke-width="1.4"/>
<line x1="141.9" y1="795.5" x2="141.9" y2="816.3" stroke="rgb(60,60,60)" stroke-width="1.1"/>
<line x1="146.1" y1="795.5" x2="146.1" y2="816.3" stroke="rgb(160,160,160)" stroke-width="1.4"/>
<line x1="151.4" y1="795.5" x2="151.4" y2="816.3" stroke="rgb(60,60,60)" stroke-width="1.1"/>
<line x1="155.6" y1="795.5" x2="155.6" y2="816.3" stroke="rgb(160,160,160)" stroke-width="1.4"/>
<line x1="157.0" y1="795.5" x2="157.0" y2="816.3" stroke="rgb(160,160,160)" stroke-width="1.4"/>
<line x1="158.5" y1="795.5" x2="158.5" y2="816.3" stroke="rgb(160,160,160)" stroke-width="1.4"/>
<line x1="161.8" y1="795.5" x2="161.8" y2="816.3" stroke="rgb(160,160,160)" stroke-width="1.4"/>
<line x1="165.5" y1="795.5" x2="165.5" y2="816.3" stroke="rgb(160,160,160)" stroke-width="1.4"/>
<line x1="168.7" y1="795.5" x2="168.7" y2="816.3" stroke="rgb(160,160,160)" stroke-width="1.4"/>
<line x1="170.3" y1="795.5" x2="170.3" y2="816.3" stroke="rgb(160,160,160)" stroke-width="1.4"/>
<line x1="171.9" y1="795.5" x2="171.9" y2="816.3" stroke="rgb(160,160,160)" stroke-width="1.4"/>
<line x1="172.9" y1="795.5" x2="172.9" y2="816.3" stroke="rgb(60,60,60)" stroke-width="1.1"/>
<line x1="177.2" y1="795.5" x2="177.2" y2="816.3" stroke="rgb(160,160,160)" stroke-width="1.4"/>
<line x1="180.3" y1="795.5" x2="180.3" y2="816.3" stroke="rgb(160,160,160)" stroke-width="1.4"/>
<line x1="183.5" y1="795.5" x2="183.5" y2="816.3" stroke="rgb(60,60,60)" stroke-width="1.1"/>
<line x1="186.7" y1="795.5" x2="186.7" y2="816.3" stroke="rgb(160,160,160)" stroke-width="1.4"/>
<line x1="188.8" y1="795.5" x2="188.8" y2="816.3" stroke="rgb(160,160,160)" stroke-width="1.4"/>
<line x1="190.9" y1="795.5" x2="190.9" y2="816.3" stroke="rgb(60,60,60)" stroke-width="1.1"/>
<line x1="194.1" y1="795.5" x2="194.1" y2="816.3" stroke="rgb(160,160,160)" stroke-width="1.4"/>
<line x1="196.2" y1="795.5" x2="196.2" y2="816.3" stroke="rgb(160,160,160)" stroke-width="1.4"/>
<line x1="199.4" y1="795.5" x2="199.4" y2="816.3" stroke="rgb(60,60,60)" stroke-width="1.1"/>
<line x1="201.5" y1="795.5" x2="201.5" y2="816.3" stroke="rgb(160,160,160)" stroke-width="1.4"/>
<line x1="205.7" y1="795.5" x2="205.7" y2="816.3" stroke="rgb(160,160,160)" stroke-width="1.4"/>
<line x1="208.9" y1="795.5" x2="208.9" y2="816.3" stroke="rgb(60,60,60)" stroke-width="1.1"/>
<line x1="211.0" y1="795.5" x2="211.0" y2="816.3" stroke="rgb(160,160,160)" stroke-width="1.4"/>
<line x1="214.2" y1="795.5" x2="214.2" y2="816.3" stroke="rgb(160,160,160)" stroke-width="1.4"/>
<line x1="217.3" y1="795.5" x2="217.3" y2="816.3" stroke="rgb(60,60,60)" stroke-width="1.1"/>
<line x1="225.8" y1="795.5" x2="225.8" y2="816.3" stroke="rgb(60,60,60)" stroke-width="1.1"/>
<line x1="230.0" y1="795.5" x2="230.0" y2="816.3" stroke="rgb(160,160,160)" stroke-width="1.4"/>
<line x1="236.4" y1="795.5" x2="236.4" y2="816.3" stroke="rgb(60,60,60)" stroke-width="1.1"/>
<line x1="238.5" y1="795.5" x2="238.5" y2="816.3" stroke="rgb(160,160,160)" stroke-width="1.4"/>
<line x1="240.6" y1="795.5" x2="240.6" y2="816.3" stroke="rgb(160,160,160)" stroke-width="1.4"/>
<line x1="242.7" y1="795.5" x2="242.7" y2="816.3" stroke="rgb(60,60,60)" stroke-width="1.1"/>
<line x1="245.9" y1="795.5" x2="245.9" y2="816.3" stroke="rgb(160,160,160)" stroke-width="1.4"/>
<line x1="249.1" y1="795.5" x2="249.1" y2="816.3" stroke="rgb(60,60,60)" stroke-width="1.1"/>
<line x1="251.2" y1="795.5" x2="251.2" y2="816.3" stroke="rgb(160,160,160)" stroke-width="1.4"/>
<line x1="253.3" y1="795.5" x2="253.3" y2="816.3" stroke="rgb(160,160,160)" stroke-width="1.4"/>
<line x1="255.4" y1="795.5" x2="255.4" y2="816.3" stroke="rgb(60,60,60)" stroke-width="1.1"/>
<line x1="257.6" y1="795.5" x2="257.6" y2="816.3" stroke="rgb(160,160,160)" stroke-width="1.4"/>
<line x1="259.7" y1="795.5" x2="259.7" y2="816.3" stroke="rgb(60,60,60)" stroke-width="1.1"/>
<line x1="261.8" y1="795.5" x2="261.8" y2="816.3" stroke="rgb(160,160,160)" stroke-width="1.4"/>
<line x1="263.0" y1="795.5" x2="263.0" y2="816.3" stroke="rgb(60,60,60)" stroke-width="1.1"/>
<line x1="54.5" y1="795.5" x2="263.3" y2="795.5" stroke="#000" stroke-width="1.2"/>
<line x1="54.5" y1="816.3" x2="263.3" y2="816.3" stroke="#000" stroke-width="1.2"/>
<defs><linearGradient id="g54631" x1="0" x2="1" y1="0" y2="0"><stop offset="0" stop-color="#E094A0"/><stop offset="0.15" stop-color="#EDBCC1"/><stop offset="0.5" stop-color="#FAEFF0"/><stop offset="0.75" stop-color="#F5F3F9"/><stop offset="0.92" stop-color="#DEDDF0"/><stop offset="1" stop-color="#C2C2E3"/></linearGradient></defs>
<rect x="54.5" y="816.3" width="208.8" height="21.200000000000045" fill="url(#g54631)"/>
<rect x="54.5" y="631.0" width="208.8" height="206.5" fill="none" stroke="#000" stroke-width="1.2"/>
<line x1="49.9" y1="637.50" x2="54.5" y2="637.50" stroke="#000" stroke-width="1.2"/>
<text x="45.8" y="641.2" font-size="10.4" text-anchor="end" font-weight="normal" font-style="normal" fill="#222">0.0</text>
<line x1="49.9" y1="669.80" x2="54.5" y2="669.80" stroke="#000" stroke-width="1.2"/>
<text x="45.8" y="673.5" font-size="10.4" text-anchor="end" font-weight="normal" font-style="normal" fill="#222">-0.1</text>
<line x1="49.9" y1="702.10" x2="54.5" y2="702.10" stroke="#000" stroke-width="1.2"/>
<text x="45.8" y="705.8" font-size="10.4" text-anchor="end" font-weight="normal" font-style="normal" fill="#222">-0.2</text>
<line x1="49.9" y1="734.40" x2="54.5" y2="734.40" stroke="#000" stroke-width="1.2"/>
<text x="45.8" y="738.1" font-size="10.4" text-anchor="end" font-weight="normal" font-style="normal" fill="#222">-0.3</text>
<line x1="49.9" y1="766.70" x2="54.5" y2="766.70" stroke="#000" stroke-width="1.2"/>
<text x="45.8" y="770.4" font-size="10.4" text-anchor="end" font-weight="normal" font-style="normal" fill="#222">-0.4</text>
<text x="158.9" y="625.6" font-size="12.8" text-anchor="middle" font-weight="bold" font-style="normal" fill="#000">Germinal centre B cell</text>
<text x="60.5" y="751.0" font-size="9.7" text-anchor="start" font-weight="normal" font-style="normal" fill="#222">Nominal p-value: 0.0198</text>
<text x="60.5" y="762.4" font-size="9.7" text-anchor="start" font-weight="normal" font-style="normal" fill="#222">FDR: 0.0236</text>
<text x="60.5" y="773.8" font-size="9.7" text-anchor="start" font-weight="normal" font-style="normal" fill="#222">ES: -0.4759</text>
<text x="60.5" y="785.2" font-size="9.7" text-anchor="start" font-weight="normal" font-style="normal" fill="#222">Normalized ES: -1.7534</text>
<text x="55.0" y="831.6" font-size="12.8" text-anchor="start" font-weight="normal" font-style="normal" fill="#2a1a1a">Positive</text>
<text x="158.9" y="831.6" font-size="12.8" text-anchor="middle" font-weight="normal" font-style="normal" fill="#2a1a1a">FOXP1</text>
<text x="257.8" y="831.6" font-size="12.8" text-anchor="end" font-weight="normal" font-style="normal" fill="#1a1a2a">Negative</text>
<line x1="298.8" y1="679.0" x2="507.6" y2="679.0" stroke="#7d7d7d" stroke-width="1.8" stroke-dasharray="5.9 6.8" stroke-dashoffset="0.9"/>
<polyline points="298.6,679 299.1,662.6 299.8,651.4 302.9,650.8 304.7,649.6 306.7,647.4 308.5,647 309.8,647.9 311.2,641.8 312.4,636.3 315,638.4 317.6,640.6 319.4,638.7 321.6,638.7 324.6,641.5 327.2,644.4 329.7,646.7 332,646.7 332.7,643.6 334.9,642.2 337.2,643.2 342.7,648.4 347.9,653.1 354.8,660 360,664.3 366.1,669.5 372.2,676.5 379.1,685.1 388.7,697.3 397.3,709.4 406,720.7 414.6,731.1 419.8,735.7 428.5,745.8 437.1,755.3 445.8,764.8 454.4,774.3 456,774.8 460.7,780.5 465.4,784.2 467.3,781.8 470.1,782.3 474.9,785.2 478.6,783.7 483.3,785.6 489.6,788.9 491.8,785.6 495.6,780.5 500.3,777.6 503.1,778.6 505.4,768.2 506.5,753.1 506.9,715.4 507.3,679.6" fill="none" stroke="#1F3156" stroke-width="2.6" stroke-linejoin="round" stroke-linecap="round"/>
<rect x="298.8" y="795.2" width="208.8" height="21.09999999999991" fill="#fff"/>
<line x1="302.3" y1="795.2" x2="302.3" y2="816.3" stroke="rgb(160,160,160)" stroke-width="1.4"/>
<line x1="304.4" y1="795.2" x2="304.4" y2="816.3" stroke="rgb(160,160,160)" stroke-width="1.4"/>
<line x1="306.6" y1="795.2" x2="306.6" y2="816.3" stroke="rgb(60,60,60)" stroke-width="1.1"/>
<line x1="308.7" y1="795.2" x2="308.7" y2="816.3" stroke="rgb(160,160,160)" stroke-width="1.4"/>
<line x1="311.9" y1="795.2" x2="311.9" y2="816.3" stroke="rgb(60,60,60)" stroke-width="1.1"/>
<line x1="315.0" y1="795.2" x2="315.0" y2="816.3" stroke="rgb(160,160,160)" stroke-width="1.4"/>
<line x1="317.2" y1="795.2" x2="317.2" y2="816.3" stroke="rgb(160,160,160)" stroke-width="1.4"/>
<line x1="319.3" y1="795.2" x2="319.3" y2="816.3" stroke="rgb(60,60,60)" stroke-width="1.1"/>
<line x1="321.4" y1="795.2" x2="321.4" y2="816.3" stroke="rgb(160,160,160)" stroke-width="1.4"/>
<line x1="325.6" y1="795.2" x2="325.6" y2="816.3" stroke="rgb(160,160,160)" stroke-width="1.4"/>
<line x1="327.7" y1="795.2" x2="327.7" y2="816.3" stroke="rgb(160,160,160)" stroke-width="1.4"/>
<line x1="330.9" y1="795.2" x2="330.9" y2="816.3" stroke="rgb(10,10,10)" stroke-width="1.3"/>
<line x1="334.1" y1="795.2" x2="334.1" y2="816.3" stroke="rgb(160,160,160)" stroke-width="1.4"/>
<line x1="337.3" y1="795.2" x2="337.3" y2="816.3" stroke="rgb(160,160,160)" stroke-width="1.4"/>
<line x1="339.4" y1="795.2" x2="339.4" y2="816.3" stroke="rgb(160,160,160)" stroke-width="1.4"/>
<line x1="341.5" y1="795.2" x2="341.5" y2="816.3" stroke="rgb(60,60,60)" stroke-width="1.1"/>
<line x1="343.6" y1="795.2" x2="343.6" y2="816.3" stroke="rgb(160,160,160)" stroke-width="1.4"/>
<line x1="346.8" y1="795.2" x2="346.8" y2="816.3" stroke="rgb(160,160,160)" stroke-width="1.4"/>
<line x1="348.9" y1="795.2" x2="348.9" y2="816.3" stroke="rgb(60,60,60)" stroke-width="1.1"/>
<line x1="351.0" y1="795.2" x2="351.0" y2="816.3" stroke="rgb(160,160,160)" stroke-width="1.4"/>
<line x1="353.1" y1="795.2" x2="353.1" y2="816.3" stroke="rgb(160,160,160)" stroke-width="1.4"/>
<line x1="355.2" y1="795.2" x2="355.2" y2="816.3" stroke="rgb(60,60,60)" stroke-width="1.1"/>
<line x1="357.4" y1="795.2" x2="357.4" y2="816.3" stroke="rgb(160,160,160)" stroke-width="1.4"/>
<line x1="359.5" y1="795.2" x2="359.5" y2="816.3" stroke="rgb(60,60,60)" stroke-width="1.1"/>
<line x1="361.6" y1="795.2" x2="361.6" y2="816.3" stroke="rgb(160,160,160)" stroke-width="1.4"/>
<line x1="363.7" y1="795.2" x2="363.7" y2="816.3" stroke="rgb(160,160,160)" stroke-width="1.4"/>
<line x1="365.8" y1="795.2" x2="365.8" y2="816.3" stroke="rgb(60,60,60)" stroke-width="1.1"/>
<line x1="367.9" y1="795.2" x2="367.9" y2="816.3" stroke="rgb(160,160,160)" stroke-width="1.4"/>
<line x1="374.3" y1="795.2" x2="374.3" y2="816.3" stroke="rgb(160,160,160)" stroke-width="1.4"/>
<line x1="376.4" y1="795.2" x2="376.4" y2="816.3" stroke="rgb(160,160,160)" stroke-width="1.4"/>
<line x1="381.7" y1="795.2" x2="381.7" y2="816.3" stroke="rgb(160,160,160)" stroke-width="1.4"/>
<line x1="383.8" y1="795.2" x2="383.8" y2="816.3" stroke="rgb(60,60,60)" stroke-width="1.1"/>
<line x1="395.4" y1="795.2" x2="395.4" y2="816.3" stroke="rgb(60,60,60)" stroke-width="1.1"/>
<line x1="398.6" y1="795.2" x2="398.6" y2="816.3" stroke="rgb(160,160,160)" stroke-width="1.4"/>
<line x1="401.8" y1="795.2" x2="401.8" y2="816.3" stroke="rgb(160,160,160)" stroke-width="1.4"/>
<line x1="405.3" y1="795.2" x2="405.3" y2="816.3" stroke="rgb(60,60,60)" stroke-width="1.1"/>
<line x1="414.8" y1="795.2" x2="414.8" y2="816.3" stroke="rgb(160,160,160)" stroke-width="1.4"/>
<line x1="416.4" y1="795.2" x2="416.4" y2="816.3" stroke="rgb(160,160,160)" stroke-width="1.4"/>
<line x1="418.0" y1="795.2" x2="418.0" y2="816.3" stroke="rgb(160,160,160)" stroke-width="1.4"/>
<line x1="421.2" y1="795.2" x2="421.2" y2="816.3" stroke="rgb(60,60,60)" stroke-width="1.1"/>
<line x1="424.3" y1="795.2" x2="424.3" y2="816.3" stroke="rgb(160,160,160)" stroke-width="1.4"/>
<line x1="427.5" y1="795.2" x2="427.5" y2="816.3" stroke="rgb(60,60,60)" stroke-width="1.1"/>
<line x1="429.6" y1="795.2" x2="429.6" y2="816.3" stroke="rgb(160,160,160)" stroke-width="1.4"/>
<line x1="433.8" y1="795.2" x2="433.8" y2="816.3" stroke="rgb(160,160,160)" stroke-width="1.4"/>
<line x1="436.0" y1="795.2" x2="436.0" y2="816.3" stroke="rgb(60,60,60)" stroke-width="1.1"/>
<line x1="439.1" y1="795.2" x2="439.1" y2="816.3" stroke="rgb(160,160,160)" stroke-width="1.4"/>
<line x1="441.3" y1="795.2" x2="441.3" y2="816.3" stroke="rgb(60,60,60)" stroke-width="1.1"/>
<line x1="447.6" y1="795.2" x2="447.6" y2="816.3" stroke="rgb(160,160,160)" stroke-width="1.4"/>
<line x1="451.8" y1="795.2" x2="451.8" y2="816.3" stroke="rgb(60,60,60)" stroke-width="1.1"/>
<line x1="455.0" y1="795.2" x2="455.0" y2="816.3" stroke="rgb(160,160,160)" stroke-width="1.4"/>
<line x1="461.3" y1="795.2" x2="461.3" y2="816.3" stroke="rgb(60,60,60)" stroke-width="1.1"/>
<line x1="463.4" y1="795.2" x2="463.4" y2="816.3" stroke="rgb(160,160,160)" stroke-width="1.4"/>
<line x1="465.6" y1="795.2" x2="465.6" y2="816.3" stroke="rgb(60,60,60)" stroke-width="1.1"/>
<line x1="467.7" y1="795.2" x2="467.7" y2="816.3" stroke="rgb(160,160,160)" stroke-width="1.4"/>
<line x1="470.9" y1="795.2" x2="470.9" y2="816.3" stroke="rgb(160,160,160)" stroke-width="1.4"/>
<line x1="473.0" y1="795.2" x2="473.0" y2="816.3" stroke="rgb(60,60,60)" stroke-width="1.1"/>
<line x1="475.1" y1="795.2" x2="475.1" y2="816.3" stroke="rgb(160,160,160)" stroke-width="1.4"/>
<line x1="477.2" y1="795.2" x2="477.2" y2="816.3" stroke="rgb(60,60,60)" stroke-width="1.1"/>
<line x1="479.3" y1="795.2" x2="479.3" y2="816.3" stroke="rgb(160,160,160)" stroke-width="1.4"/>
<line x1="481.4" y1="795.2" x2="481.4" y2="816.3" stroke="rgb(160,160,160)" stroke-width="1.4"/>
<line x1="483.6" y1="795.2" x2="483.6" y2="816.3" stroke="rgb(60,60,60)" stroke-width="1.1"/>
<line x1="485.7" y1="795.2" x2="485.7" y2="816.3" stroke="rgb(160,160,160)" stroke-width="1.4"/>
<line x1="487.8" y1="795.2" x2="487.8" y2="816.3" stroke="rgb(60,60,60)" stroke-width="1.1"/>
<line x1="489.9" y1="795.2" x2="489.9" y2="816.3" stroke="rgb(160,160,160)" stroke-width="1.4"/>
<line x1="492.0" y1="795.2" x2="492.0" y2="816.3" stroke="rgb(160,160,160)" stroke-width="1.4"/>
<line x1="494.1" y1="795.2" x2="494.1" y2="816.3" stroke="rgb(60,60,60)" stroke-width="1.1"/>
<line x1="496.2" y1="795.2" x2="496.2" y2="816.3" stroke="rgb(160,160,160)" stroke-width="1.4"/>
<line x1="498.4" y1="795.2" x2="498.4" y2="816.3" stroke="rgb(60,60,60)" stroke-width="1.1"/>
<line x1="500.5" y1="795.2" x2="500.5" y2="816.3" stroke="rgb(160,160,160)" stroke-width="1.4"/>
<line x1="503.7" y1="795.2" x2="503.7" y2="816.3" stroke="rgb(60,60,60)" stroke-width="1.1"/>
<line x1="505.8" y1="795.2" x2="505.8" y2="816.3" stroke="rgb(10,10,10)" stroke-width="1.3"/>
<line x1="298.8" y1="795.2" x2="507.6" y2="795.2" stroke="#000" stroke-width="1.2"/>
<line x1="298.8" y1="816.3" x2="507.6" y2="816.3" stroke="#000" stroke-width="1.2"/>
<defs><linearGradient id="g298630" x1="0" x2="1" y1="0" y2="0"><stop offset="0" stop-color="#E094A0"/><stop offset="0.15" stop-color="#EDBCC1"/><stop offset="0.5" stop-color="#FAEFF0"/><stop offset="0.75" stop-color="#F5F3F9"/><stop offset="0.92" stop-color="#DEDDF0"/><stop offset="1" stop-color="#C2C2E3"/></linearGradient></defs>
<rect x="298.8" y="816.3" width="208.8" height="21.200000000000045" fill="url(#g298630)"/>
<rect x="298.8" y="630.6" width="208.8" height="206.89999999999998" fill="none" stroke="#000" stroke-width="1.2"/>
<line x1="294.2" y1="652.40" x2="298.8" y2="652.40" stroke="#000" stroke-width="1.2"/>
<text x="290.1" y="656.1" font-size="10.4" text-anchor="end" font-weight="normal" font-style="normal" fill="#222">0.1</text>
<line x1="294.2" y1="679.50" x2="298.8" y2="679.50" stroke="#000" stroke-width="1.2"/>
<text x="290.1" y="683.2" font-size="10.4" text-anchor="end" font-weight="normal" font-style="normal" fill="#222">0.0</text>
<line x1="294.2" y1="706.60" x2="298.8" y2="706.60" stroke="#000" stroke-width="1.2"/>
<text x="290.1" y="710.3" font-size="10.4" text-anchor="end" font-weight="normal" font-style="normal" fill="#222">-0.1</text>
<line x1="294.2" y1="733.70" x2="298.8" y2="733.70" stroke="#000" stroke-width="1.2"/>
<text x="290.1" y="737.4" font-size="10.4" text-anchor="end" font-weight="normal" font-style="normal" fill="#222">-0.2</text>
<line x1="294.2" y1="760.80" x2="298.8" y2="760.80" stroke="#000" stroke-width="1.2"/>
<text x="290.1" y="764.5" font-size="10.4" text-anchor="end" font-weight="normal" font-style="normal" fill="#222">-0.3</text>
<line x1="294.2" y1="787.90" x2="298.8" y2="787.90" stroke="#000" stroke-width="1.2"/>
<text x="290.1" y="791.6" font-size="10.4" text-anchor="end" font-weight="normal" font-style="normal" fill="#222">-0.4</text>
<text x="403.20000000000005" y="625.3" font-size="12.8" text-anchor="middle" font-weight="bold" font-style="normal" fill="#000">Light zone</text>
<text x="305.5" y="751.0" font-size="9.7" text-anchor="start" font-weight="normal" font-style="normal" fill="#222">Nominal p-value: 0.0196</text>
<text x="305.5" y="762.4" font-size="9.7" text-anchor="start" font-weight="normal" font-style="normal" fill="#222">FDR: 0.0447</text>
<text x="305.5" y="773.8" font-size="9.7" text-anchor="start" font-weight="normal" font-style="normal" fill="#222">ES: -0.4124</text>
<text x="305.5" y="785.2" font-size="9.7" text-anchor="start" font-weight="normal" font-style="normal" fill="#222">Normalized ES: -1.5455</text>
<text x="299.5" y="831.6" font-size="12.8" text-anchor="start" font-weight="normal" font-style="normal" fill="#2a1a1a">Positive</text>
<text x="403.20000000000005" y="831.6" font-size="12.8" text-anchor="middle" font-weight="normal" font-style="normal" fill="#2a1a1a">FOXP1</text>
<text x="501.90000000000003" y="831.6" font-size="12.8" text-anchor="end" font-weight="normal" font-style="normal" fill="#1a1a2a">Negative</text>
<text x="11.4" y="618.7" font-size="18.5" text-anchor="start" font-weight="bold" font-style="normal" fill="#000" textLength="11.4" lengthAdjust="spacingAndGlyphs">C</text>
<text x="0" y="0" font-size="12" text-anchor="middle" fill="#222" transform="translate(20.6,713.1) rotate(-90)" textLength="113.5" lengthAdjust="spacingAndGlyphs">Enrichment score (ES)</text>
</svg>
</body></html>
